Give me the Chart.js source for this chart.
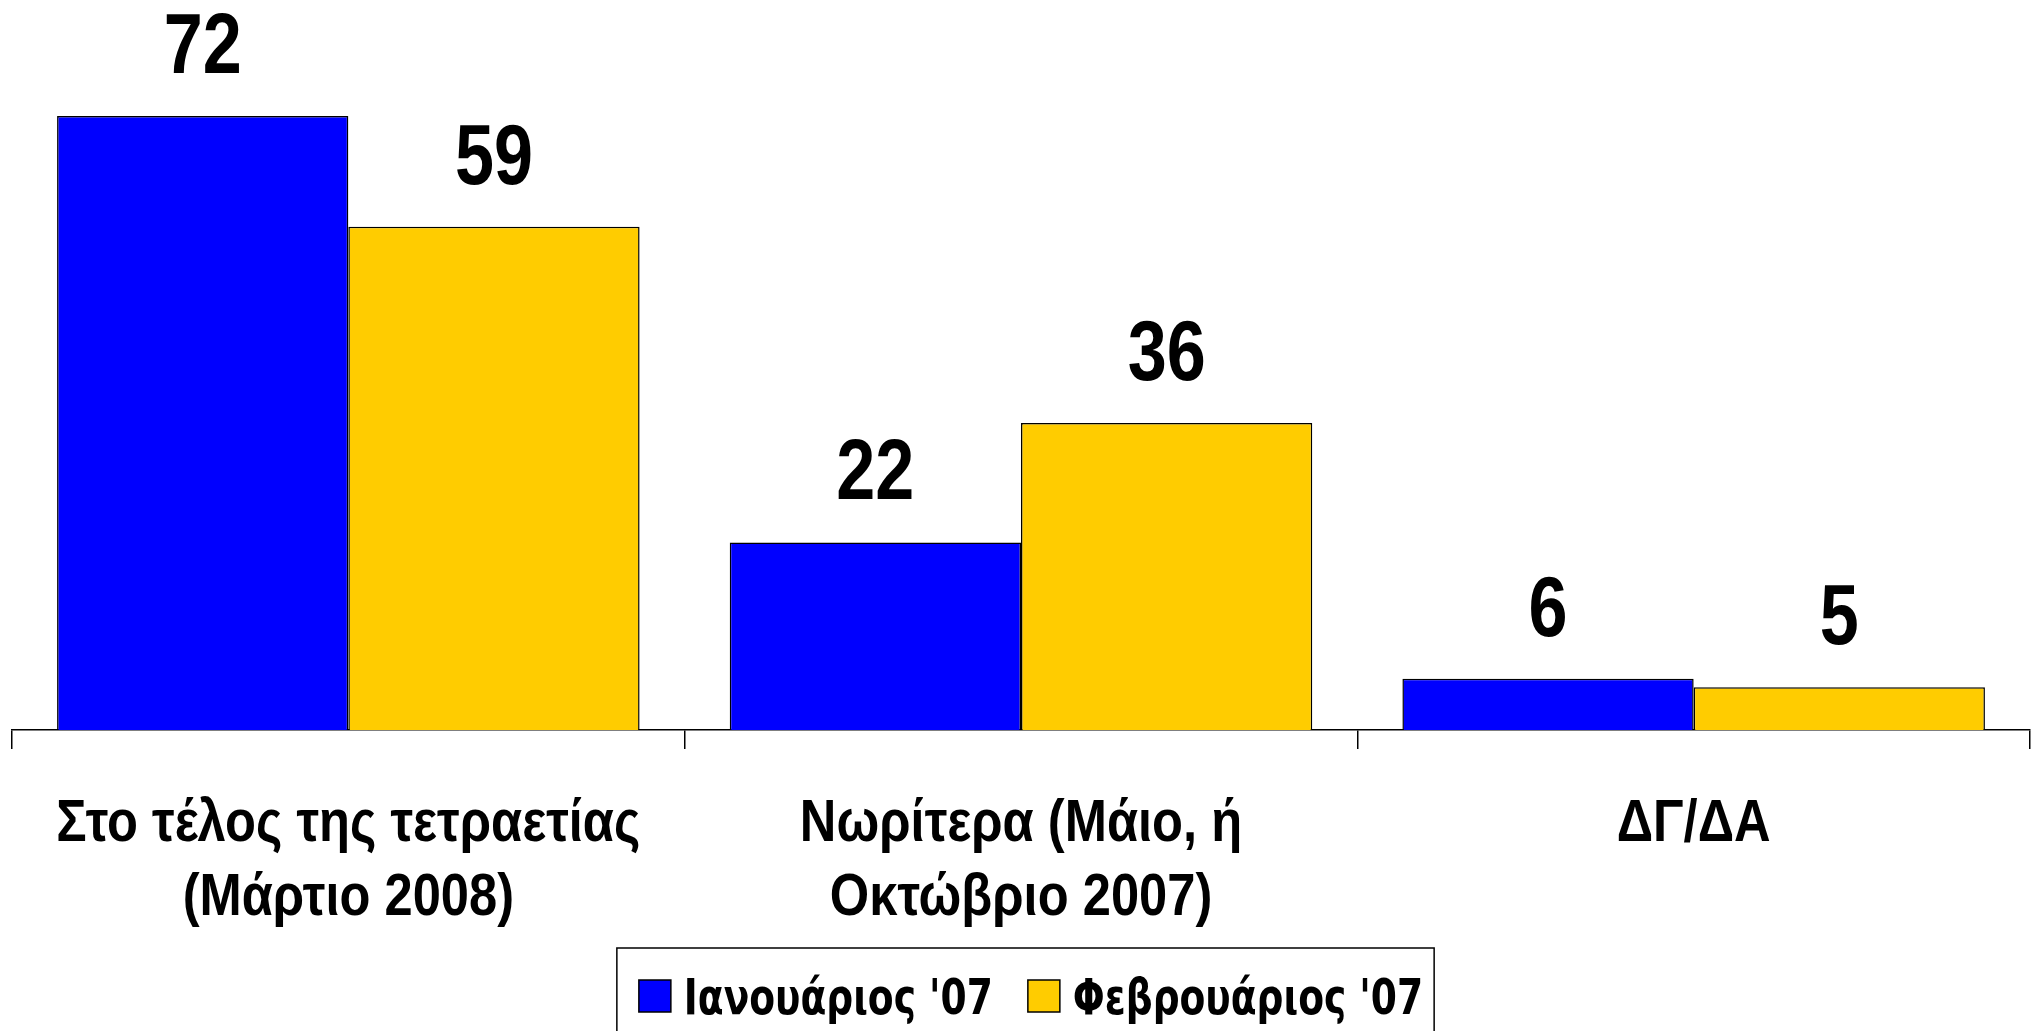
<!DOCTYPE html>
<html>
<head>
<meta charset="utf-8">
<script src="https://cdn.jsdelivr.net/npm/chart.js@4.4.1/dist/chart.umd.min.js"></script>
<style>
  html, body { margin: 0; padding: 0; background: #fff; }
  #wrap { width: 2033px; height: 1031px; }
</style>
</head>
<body>
<div id="wrap"><canvas id="chart" width="2033" height="1031"></canvas></div>
<script>
const categories = [
    ['Στο τέλος της τετραετίας', '(Μάρτιο 2008)'],
    ['Νωρίτερα (Μάιο, ή', 'Οκτώβριο 2007)'],
    ['ΔΓ/ΔΑ']
];
const seriesNames = ["Ιανουάριος '07", "Φεβρουάριος '07"];
const january = [72, 22, 6];
const february = [59, 36, 5];
const seriesColors = ['#0000FF', '#FFCC00'];

const ARIAL = '"Liberation Sans", Arial, sans-serif';
const LEGEND_FONT = '"DejaVu Sans", Verdana, sans-serif';

// the original uses narrow fonts: draw text squeezed horizontally
function narrowText(ctx, text, x, y, sx, align) {
    ctx.save();
    ctx.translate(x, y);
    ctx.scale(sx, 1);
    ctx.textAlign = align || 'center';
    ctx.fillText(text, 0, 0);
    ctx.restore();
}

function squeezeFor(ctx, font, sample, width) {
    ctx.save();
    ctx.font = font;
    const w = ctx.measureText(sample).width;
    ctx.restore();
    return width / w;
}

const valueLabels = {
    id: 'valueLabels',
    afterDatasetsDraw: function(chart) {
        const ctx = chart.ctx;
        const font = 'bold 86px ' + ARIAL;
        const sx = squeezeFor(ctx, font, '72', 78);
        ctx.save();
        ctx.font = font;
        ctx.fillStyle = '#000';
        ctx.textBaseline = 'alphabetic';
        chart.data.datasets.forEach(function(ds, i) {
            chart.getDatasetMeta(i).data.forEach(function(bar, j) {
                narrowText(ctx, String(ds.data[j]), bar.x, bar.y - 43, sx);
            });
        });
        ctx.restore();
    }
};

const categoryLabels = {
    id: 'categoryLabels',
    afterDraw: function(chart) {
        const ctx = chart.ctx;
        const scale = chart.scales.x;
        const font = 'bold 60px ' + ARIAL;
        const sx = squeezeFor(ctx, font, categories[0][0], 584);
        ctx.save();
        ctx.font = font;
        ctx.fillStyle = '#000';
        ctx.textBaseline = 'alphabetic';
        categories.forEach(function(lines, i) {
            const x = scale.getPixelForTick(i);
            lines.forEach(function(line, k) {
                narrowText(ctx, line, x, scale.bottom + 92 + k * 74, sx);
            });
        });
        ctx.restore();
    }
};

// legend in a frame that runs off the bottom of the picture
const framedLegend = {
    id: 'framedLegend',
    afterDraw: function(chart) {
        const ctx = chart.ctx;
        const font = 'bold 49px ' + LEGEND_FONT;
        const sx = squeezeFor(ctx, font, seriesNames[0], 309);
        const box = 32, gap = 13, itemGap = 35;
        ctx.save();
        ctx.font = font;
        const widths = seriesNames.map(function(n) { return ctx.measureText(n).width * sx; });
        let total = 0;
        widths.forEach(function(w, i) { total += box + gap + w + (i ? itemGap : 0); });
        const mid = (chart.chartArea.left + chart.chartArea.right) / 2 + 5;
        let x = mid - total / 2 + 5;
        const boxTop = 980;
        const frameLeft = x - 22;
        const frameRight = x + total + 11;
        ctx.lineWidth = 1.5;
        ctx.strokeStyle = '#000';
        ctx.strokeRect(frameLeft, 948, frameRight - frameLeft, chart.height + 10 - 948);
        ctx.textBaseline = 'alphabetic';
        seriesNames.forEach(function(name, i) {
            ctx.fillStyle = chart.data.datasets[i].backgroundColor;
            ctx.fillRect(x, boxTop, box, box);
            ctx.strokeRect(x, boxTop, box, box);
            ctx.fillStyle = '#000';
            narrowText(ctx, name, x + box + gap, 1014, sx, 'left');
            x += box + gap + widths[i] + itemGap;
        });
        ctx.restore();
    }
};

function draw() {
    new Chart(document.getElementById('chart'), {
        type: 'bar',
        data: {
            labels: categories.map(function(c) { return c.join(' '); }),
            datasets: seriesNames.map(function(name, i) {
                return {
                    label: name,
                    data: i === 0 ? january : february,
                    backgroundColor: seriesColors[i],
                    borderColor: '#000',
                    borderWidth: 1.5
                };
            })
        },
        options: {
            responsive: false,
            animation: false,
            layout: { padding: { left: 12, right: 3, top: 0, bottom: 282 } },
            datasets: {
                bar: { categoryPercentage: 0.866, barPercentage: 1.0 }
            },
            scales: {
                x: {
                    grid: {
                        offset: true,
                        drawOnChartArea: false,
                        drawTicks: true,
                        tickLength: 19,
                        color: '#000',
                        lineWidth: 1.5
                    },
                    border: { display: true, color: '#000', width: 1.5 },
                    ticks: { display: false }
                },
                y: {
                    display: false,
                    min: 0,
                    max: 85.6
                }
            },
            plugins: {
                legend: { display: false },
                tooltip: { enabled: false }
            }
        },
        plugins: [valueLabels, categoryLabels, framedLegend]
    });
}

Promise.all([
    document.fonts.load('bold 60px "Liberation Sans"'),
    document.fonts.load('bold 49px "DejaVu Sans"')
]).then(draw, draw);
</script>
</body>
</html>
